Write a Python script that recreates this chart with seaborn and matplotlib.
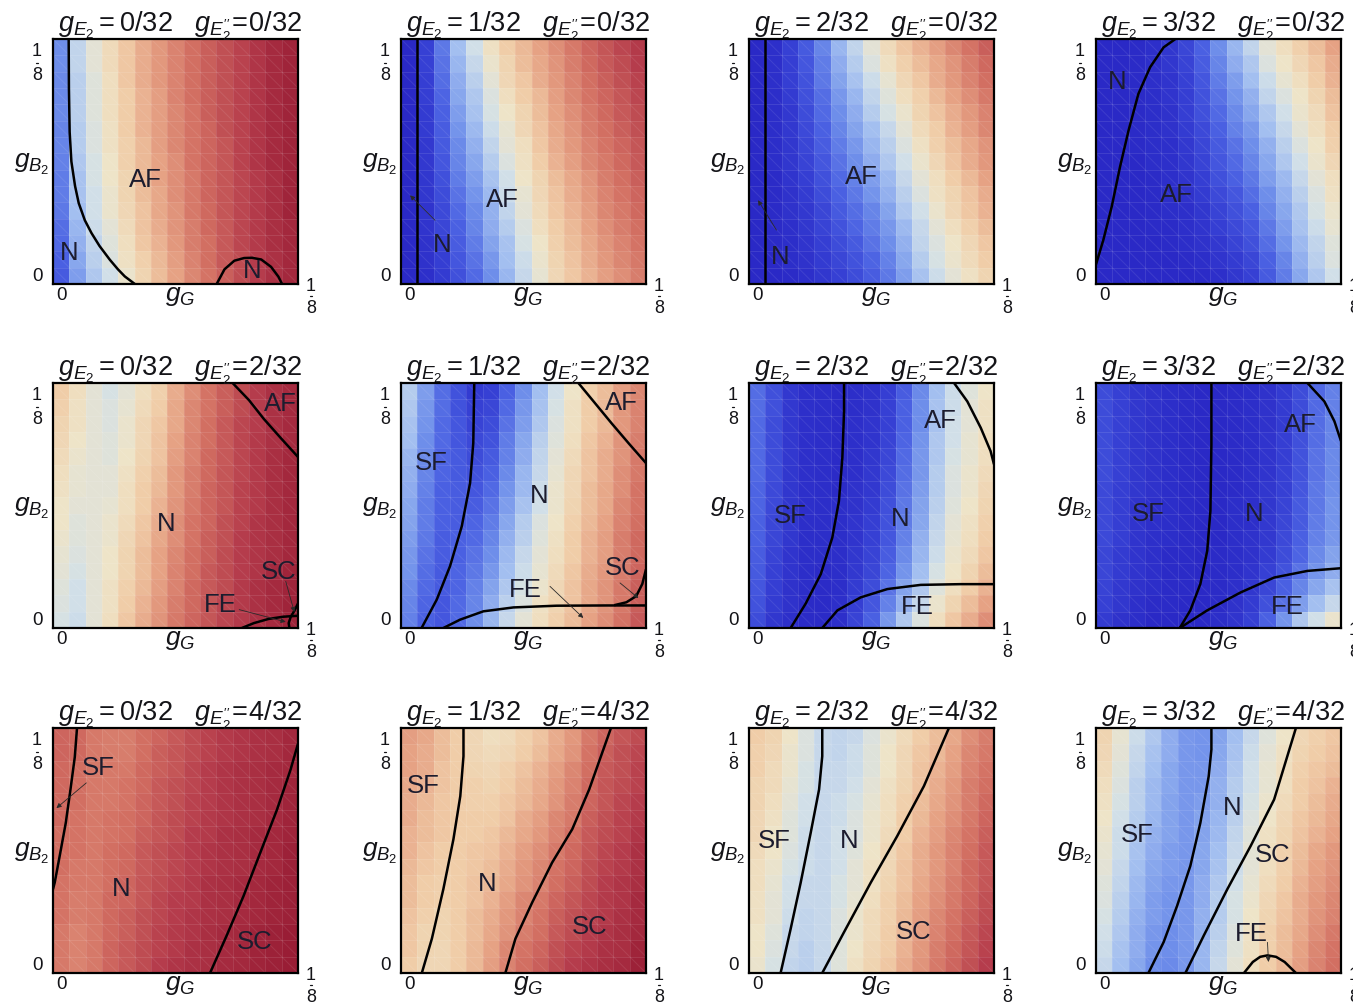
import numpy as np
import pandas as pd
import matplotlib
matplotlib.use("Agg")
import matplotlib.pyplot as plt
import seaborn as sns
from matplotlib.colors import LinearSegmentedColormap

sns.set_theme(style="white")
plt.rcParams["font.family"] = ["Liberation Sans", "DejaVu Sans"]
plt.rcParams["mathtext.fontset"] = "custom"
plt.rcParams["mathtext.rm"] = "Liberation Sans"
plt.rcParams["mathtext.it"] = "Liberation Sans:italic"
plt.rcParams["mathtext.bf"] = "Liberation Sans:bold"

# ---------------------------------------------------------------- data
G_MAX = 1 / 8                 # both axes run from 0 to 1/8
e_values = [0, 1, 2, 3]       # g_E2 numerators (over 32), one per column
s_values = [0, 2, 4]          # g_E2'' numerators (over 32), one per row

# free-energy colour level (0 = coldest, 100 = warmest), rows listed from top (g_B2 = 1/8) to bottom
grid_e0_s0 = [
    [30, 45, 52, 58, 63, 68, 72, 76, 80, 83, 86, 89, 92, 95, 97],
    [30, 45, 52, 58, 63, 68, 72, 76, 80, 83, 86, 89, 92, 95, 97],
    [29, 44, 51, 57, 63, 68, 72, 76, 80, 83, 86, 89, 92, 95, 97],
    [29, 44, 51, 57, 62, 67, 71, 76, 80, 83, 86, 89, 92, 95, 97],
    [29, 44, 51, 57, 62, 67, 71, 75, 79, 83, 86, 89, 92, 95, 97],
    [28, 43, 50, 56, 62, 67, 71, 75, 79, 82, 86, 89, 92, 95, 97],
    [28, 43, 50, 56, 61, 66, 71, 75, 79, 82, 85, 89, 92, 95, 97],
    [27, 42, 49, 55, 61, 66, 70, 74, 79, 82, 85, 89, 92, 95, 97],
    [26, 41, 49, 55, 60, 66, 70, 74, 78, 82, 85, 88, 91, 94, 97],
    [26, 41, 48, 54, 60, 65, 69, 74, 78, 82, 85, 88, 91, 94, 97],
    [25, 40, 48, 54, 59, 64, 69, 73, 78, 81, 85, 88, 91, 94, 97],
    [23, 38, 47, 52, 58, 64, 68, 73, 77, 81, 84, 88, 91, 94, 96],
    [22, 37, 45, 51, 57, 63, 67, 72, 77, 80, 84, 88, 91, 94, 96],
    [20, 35, 44, 50, 56, 61, 66, 71, 76, 80, 84, 87, 90, 93, 96],
    [18, 33, 42, 48, 54, 60, 65, 70, 75, 79, 83, 87, 90, 93, 96],
]
grid_e1_s0 = [
    [0, 10, 25, 40, 48, 56, 62, 66, 70, 74, 78, 82, 85, 88, 91],
    [0, 10, 24, 38, 46, 54, 60, 65, 69, 73, 77, 81, 84, 87, 90],
    [0, 9, 23, 36, 44, 52, 59, 63, 68, 72, 76, 80, 83, 86, 89],
    [0, 9, 21, 35, 42, 50, 57, 62, 66, 71, 75, 79, 82, 85, 88],
    [0, 8, 20, 33, 41, 49, 55, 60, 65, 70, 74, 78, 81, 84, 87],
    [0, 8, 19, 31, 39, 47, 53, 59, 64, 69, 73, 77, 80, 83, 86],
    [0, 7, 18, 29, 37, 45, 52, 57, 63, 68, 72, 76, 79, 82, 85],
    [0, 7, 17, 28, 35, 43, 50, 56, 62, 67, 71, 75, 78, 81, 84],
    [0, 6, 15, 26, 33, 41, 48, 55, 60, 65, 69, 73, 77, 80, 83],
    [0, 6, 14, 24, 31, 39, 47, 53, 59, 64, 68, 72, 76, 79, 82],
    [0, 5, 13, 22, 29, 37, 45, 52, 58, 63, 67, 71, 75, 78, 81],
    [0, 5, 12, 20, 28, 36, 43, 50, 57, 62, 66, 70, 74, 77, 80],
    [0, 4, 10, 19, 26, 34, 41, 49, 55, 61, 65, 69, 73, 76, 79],
    [0, 4, 9, 17, 24, 32, 40, 47, 54, 60, 64, 68, 72, 75, 78],
    [0, 3, 8, 15, 22, 30, 38, 46, 53, 59, 63, 67, 71, 74, 77],
]
grid_e2_s0 = [
    [0, 3, 10, 18, 28, 38, 45, 52, 58, 63, 67, 71, 75, 79, 83],
    [0, 3, 9, 17, 26, 36, 43, 50, 56, 61, 65, 69, 73, 77, 81],
    [0, 3, 9, 16, 25, 34, 41, 47, 53, 59, 63, 68, 72, 76, 80],
    [0, 2, 8, 15, 23, 32, 38, 45, 51, 57, 61, 66, 70, 74, 78],
    [0, 2, 7, 14, 22, 30, 36, 43, 49, 54, 60, 64, 68, 72, 76],
    [0, 2, 7, 13, 20, 28, 34, 40, 46, 52, 58, 62, 67, 71, 75],
    [0, 2, 6, 12, 19, 26, 32, 38, 44, 50, 56, 61, 65, 69, 73],
    [0, 2, 6, 11, 17, 24, 30, 36, 42, 48, 54, 59, 64, 68, 72],
    [0, 1, 5, 9, 15, 22, 27, 33, 39, 46, 52, 57, 62, 66, 70],
    [0, 1, 4, 8, 14, 20, 25, 31, 37, 44, 50, 56, 60, 64, 68],
    [0, 1, 4, 7, 12, 18, 23, 28, 34, 42, 48, 54, 59, 63, 67],
    [0, 1, 3, 6, 11, 16, 21, 26, 32, 39, 46, 52, 57, 61, 65],
    [0, 1, 2, 5, 9, 14, 18, 24, 30, 37, 45, 50, 55, 59, 63],
    [0, 0, 2, 4, 8, 12, 16, 21, 27, 35, 43, 49, 54, 58, 62],
    [0, 0, 1, 3, 6, 10, 14, 19, 25, 33, 41, 47, 52, 56, 60],
]
grid_e3_s0 = [
    [0, 0, 1, 3, 6, 12, 20, 30, 38, 45, 52, 57, 61, 65, 70],
    [0, 0, 1, 3, 6, 11, 19, 28, 36, 42, 50, 55, 59, 63, 68],
    [0, 0, 1, 3, 5, 10, 17, 26, 33, 40, 47, 53, 57, 62, 67],
    [0, 0, 1, 2, 5, 9, 16, 24, 31, 37, 45, 50, 55, 60, 65],
    [0, 0, 1, 2, 4, 9, 15, 22, 29, 35, 42, 48, 54, 58, 64],
    [0, 0, 1, 2, 4, 8, 13, 20, 27, 32, 40, 46, 52, 57, 62],
    [0, 0, 1, 2, 3, 7, 12, 18, 24, 30, 37, 44, 50, 55, 61],
    [0, 0, 0, 2, 3, 6, 11, 17, 22, 28, 35, 42, 48, 54, 59],
    [0, 0, 0, 1, 3, 5, 9, 15, 20, 25, 33, 39, 46, 52, 57],
    [0, 0, 0, 1, 2, 4, 8, 13, 17, 23, 30, 37, 44, 50, 56],
    [0, 0, 0, 1, 2, 3, 6, 11, 15, 20, 28, 35, 42, 49, 54],
    [0, 0, 0, 1, 1, 3, 5, 9, 13, 17, 25, 33, 41, 47, 53],
    [0, 0, 0, 0, 1, 2, 4, 7, 11, 15, 23, 31, 39, 45, 51],
    [0, 0, 0, 0, 0, 1, 2, 5, 8, 12, 20, 28, 37, 44, 50],
    [0, 0, 0, 0, 0, 0, 1, 3, 6, 10, 18, 26, 35, 42, 48],
]
grid_e0_s2 = [
    [62, 57, 52, 49, 52, 57, 61, 68, 74, 79, 83, 87, 90, 93, 95],
    [61, 56, 52, 50, 53, 58, 62, 69, 75, 79, 83, 87, 90, 93, 95],
    [60, 56, 52, 50, 54, 59, 63, 69, 75, 80, 84, 88, 90, 93, 95],
    [59, 55, 52, 51, 54, 59, 64, 70, 76, 80, 84, 88, 91, 93, 95],
    [58, 54, 52, 51, 55, 60, 64, 71, 76, 81, 84, 88, 91, 94, 96],
    [57, 53, 52, 52, 56, 61, 65, 72, 77, 81, 85, 88, 91, 94, 96],
    [56, 53, 52, 52, 57, 62, 66, 72, 77, 82, 85, 89, 91, 94, 96],
    [55, 52, 52, 53, 57, 62, 67, 73, 78, 82, 85, 89, 91, 94, 96],
    [55, 51, 52, 54, 58, 63, 68, 74, 79, 82, 86, 89, 92, 94, 96],
    [54, 51, 52, 54, 59, 64, 69, 74, 79, 83, 86, 90, 92, 94, 96],
    [53, 50, 52, 55, 60, 65, 70, 75, 80, 83, 87, 90, 92, 94, 96],
    [52, 49, 52, 55, 60, 65, 70, 76, 80, 84, 87, 90, 92, 95, 97],
    [51, 48, 52, 56, 61, 66, 71, 76, 81, 84, 87, 91, 93, 95, 97],
    [50, 48, 52, 56, 62, 67, 72, 77, 81, 85, 88, 91, 93, 95, 97],
    [49, 47, 52, 57, 63, 68, 73, 78, 82, 85, 88, 91, 93, 95, 97],
]
grid_e1_s2 = [
    [43, 33, 23, 16, 8, 10, 20, 30, 40, 48, 55, 61, 65, 71, 75],
    [42, 32, 23, 16, 10, 12, 22, 32, 41, 49, 56, 62, 66, 72, 76],
    [41, 31, 22, 17, 11, 14, 24, 33, 42, 50, 56, 62, 66, 72, 76],
    [40, 30, 22, 17, 13, 16, 26, 35, 44, 51, 57, 63, 67, 73, 77],
    [38, 29, 21, 18, 14, 18, 27, 36, 45, 52, 58, 64, 68, 73, 78],
    [37, 28, 21, 18, 16, 20, 29, 38, 46, 53, 59, 64, 68, 74, 78],
    [36, 27, 20, 19, 17, 22, 31, 39, 47, 54, 59, 65, 69, 74, 79],
    [35, 26, 20, 19, 19, 24, 33, 41, 48, 54, 60, 65, 69, 75, 79],
    [34, 26, 20, 19, 21, 26, 35, 43, 50, 55, 61, 66, 70, 76, 80],
    [33, 25, 19, 20, 22, 28, 37, 44, 51, 56, 62, 67, 71, 77, 81],
    [32, 24, 19, 20, 24, 30, 39, 46, 52, 57, 62, 67, 71, 77, 81],
    [31, 23, 18, 21, 25, 32, 40, 47, 53, 58, 63, 68, 72, 77, 82],
    [29, 22, 18, 21, 27, 34, 42, 49, 54, 59, 64, 69, 73, 78, 83],
    [28, 21, 17, 22, 28, 36, 44, 50, 56, 60, 64, 69, 73, 78, 83],
    [27, 20, 17, 22, 30, 38, 46, 52, 57, 61, 65, 70, 74, 79, 84],
]
grid_e2_s2 = [
    [23, 15, 7, 3, 2, 1, 2, 4, 9, 19, 29, 40, 47, 51, 55],
    [23, 15, 7, 3, 2, 1, 2, 4, 10, 20, 30, 41, 47, 52, 56],
    [22, 14, 7, 3, 2, 1, 3, 5, 10, 20, 30, 41, 48, 52, 56],
    [22, 14, 7, 3, 2, 1, 3, 5, 11, 21, 31, 42, 48, 53, 57],
    [22, 14, 7, 3, 2, 1, 3, 6, 12, 22, 32, 42, 49, 53, 57],
    [22, 14, 6, 3, 2, 1, 3, 7, 13, 23, 32, 43, 50, 54, 58],
    [21, 13, 6, 3, 2, 1, 4, 7, 14, 24, 33, 43, 50, 54, 59],
    [21, 13, 6, 3, 2, 2, 4, 8, 15, 25, 34, 44, 51, 55, 60],
    [20, 12, 6, 2, 2, 2, 5, 9, 16, 26, 35, 45, 52, 56, 61],
    [20, 12, 6, 2, 2, 2, 5, 10, 17, 27, 37, 46, 53, 57, 62],
    [19, 11, 5, 2, 2, 2, 6, 11, 19, 29, 38, 47, 54, 58, 63],
    [18, 10, 5, 2, 1, 2, 7, 12, 21, 31, 40, 49, 55, 60, 65],
    [17, 9, 4, 2, 1, 2, 8, 14, 24, 34, 42, 51, 57, 62, 67],
    [16, 8, 4, 1, 1, 3, 9, 17, 27, 37, 46, 54, 60, 65, 70],
    [14, 6, 3, 1, 1, 3, 11, 20, 32, 42, 50, 57, 63, 68, 74],
]
grid_e3_s2 = [
    [14, 10, 6, 4, 2, 1, 0, 0, 1, 2, 4, 8, 14, 22, 27],
    [14, 10, 6, 4, 2, 1, 0, 0, 1, 2, 4, 8, 14, 22, 27],
    [14, 10, 6, 4, 2, 1, 0, 0, 1, 2, 4, 8, 15, 23, 28],
    [14, 10, 6, 4, 2, 1, 0, 0, 1, 2, 5, 9, 15, 23, 28],
    [14, 10, 6, 4, 2, 1, 0, 0, 1, 2, 5, 9, 16, 24, 29],
    [14, 10, 6, 4, 2, 1, 0, 0, 1, 3, 5, 10, 16, 24, 29],
    [13, 9, 6, 4, 2, 1, 0, 0, 1, 3, 6, 10, 17, 25, 30],
    [13, 9, 5, 3, 2, 1, 0, 0, 2, 3, 6, 11, 18, 25, 31],
    [13, 9, 5, 3, 2, 1, 0, 0, 2, 3, 7, 12, 18, 26, 31],
    [13, 9, 5, 3, 2, 1, 0, 0, 2, 4, 7, 13, 20, 27, 32],
    [12, 8, 5, 3, 1, 1, 0, 1, 2, 4, 8, 14, 21, 29, 34],
    [12, 8, 5, 3, 1, 1, 0, 1, 2, 5, 10, 16, 24, 31, 36],
    [11, 7, 4, 2, 1, 1, 0, 1, 3, 6, 12, 20, 28, 35, 41],
    [10, 6, 3, 1, 1, 0, 0, 1, 4, 8, 15, 24, 33, 40, 46],
    [8, 4, 2, 0, 0, 0, 0, 2, 5, 10, 20, 31, 42, 48, 54],
]
grid_e0_s4 = [
    [82, 81, 78, 77, 77, 80, 82, 84, 87, 89, 91, 92, 93, 94, 96],
    [82, 81, 78, 77, 77, 80, 83, 85, 87, 89, 91, 92, 93, 94, 96],
    [81, 80, 78, 78, 78, 81, 83, 85, 88, 90, 92, 93, 94, 95, 96],
    [81, 80, 78, 78, 79, 81, 84, 86, 88, 90, 92, 93, 94, 95, 97],
    [81, 80, 78, 78, 79, 82, 84, 86, 89, 90, 92, 93, 94, 95, 97],
    [81, 79, 78, 79, 80, 82, 85, 87, 89, 91, 92, 93, 94, 95, 97],
    [80, 79, 78, 79, 80, 83, 85, 87, 90, 91, 93, 94, 95, 96, 97],
    [80, 79, 78, 80, 81, 84, 86, 88, 90, 92, 93, 94, 95, 96, 98],
    [80, 78, 78, 80, 81, 84, 86, 88, 90, 92, 93, 94, 95, 96, 98],
    [79, 78, 78, 80, 82, 85, 87, 89, 91, 93, 94, 95, 96, 97, 98],
    [79, 77, 78, 81, 82, 85, 88, 90, 91, 93, 94, 95, 96, 97, 98],
    [79, 77, 78, 81, 83, 86, 88, 90, 92, 93, 94, 95, 96, 97, 98],
    [78, 76, 78, 81, 83, 86, 89, 91, 92, 94, 95, 96, 97, 98, 99],
    [78, 76, 78, 82, 84, 87, 89, 91, 93, 94, 95, 96, 97, 98, 99],
    [78, 76, 78, 82, 84, 87, 90, 92, 93, 94, 95, 96, 97, 98, 99],
]
grid_e1_s4 = [
    [71, 69, 65, 62, 59, 57, 58, 61, 64, 68, 72, 78, 82, 85, 87],
    [70, 68, 65, 62, 59, 58, 59, 62, 65, 69, 73, 79, 83, 86, 88],
    [70, 68, 64, 62, 60, 59, 61, 64, 67, 71, 75, 80, 84, 86, 89],
    [69, 67, 64, 62, 61, 60, 62, 65, 68, 72, 76, 81, 85, 87, 89],
    [68, 66, 63, 62, 61, 61, 63, 66, 69, 73, 77, 82, 85, 88, 90],
    [68, 65, 63, 62, 62, 62, 64, 68, 71, 75, 78, 83, 86, 89, 91],
    [67, 65, 63, 62, 62, 63, 66, 69, 72, 76, 80, 84, 87, 89, 92],
    [67, 64, 62, 62, 63, 64, 67, 71, 74, 78, 81, 85, 88, 90, 93],
    [66, 63, 62, 62, 63, 65, 68, 72, 75, 79, 82, 86, 89, 91, 93],
    [65, 62, 61, 62, 64, 66, 69, 73, 76, 80, 83, 87, 90, 92, 94],
    [65, 62, 61, 62, 64, 67, 71, 75, 78, 82, 85, 88, 91, 92, 95],
    [64, 61, 60, 62, 65, 68, 72, 76, 79, 83, 86, 89, 91, 93, 95],
    [63, 60, 60, 62, 65, 69, 73, 77, 80, 84, 87, 90, 92, 94, 96],
    [63, 60, 59, 62, 66, 70, 75, 79, 82, 86, 89, 91, 93, 94, 97],
    [62, 59, 59, 62, 66, 71, 76, 80, 83, 87, 90, 92, 94, 95, 98],
]
grid_e2_s4 = [
    [62, 60, 55, 50, 46, 45, 46, 50, 54, 58, 62, 65, 69, 74, 77],
    [61, 59, 54, 50, 46, 45, 47, 51, 55, 59, 63, 66, 70, 75, 78],
    [61, 58, 54, 49, 46, 46, 47, 51, 55, 59, 64, 67, 71, 76, 79],
    [60, 58, 53, 49, 46, 46, 48, 52, 56, 60, 64, 68, 72, 77, 80],
    [60, 57, 52, 48, 46, 47, 49, 53, 57, 61, 65, 69, 73, 77, 81],
    [59, 56, 51, 48, 46, 47, 50, 54, 57, 62, 66, 70, 74, 78, 82],
    [59, 55, 51, 47, 46, 48, 50, 54, 58, 62, 67, 71, 75, 79, 83],
    [58, 55, 50, 47, 46, 48, 51, 55, 59, 63, 68, 72, 76, 80, 84],
    [57, 54, 49, 47, 46, 48, 52, 56, 59, 64, 68, 72, 76, 81, 84],
    [57, 53, 48, 46, 46, 49, 52, 56, 60, 64, 69, 73, 77, 81, 85],
    [56, 52, 48, 46, 46, 49, 53, 57, 61, 65, 70, 74, 78, 82, 86],
    [56, 52, 47, 45, 46, 50, 54, 58, 61, 66, 71, 75, 79, 83, 87],
    [55, 51, 46, 45, 46, 50, 54, 58, 62, 66, 71, 76, 80, 84, 88],
    [55, 50, 46, 44, 46, 51, 55, 59, 62, 67, 72, 77, 81, 85, 89],
    [54, 49, 45, 44, 46, 51, 56, 60, 63, 68, 73, 78, 82, 86, 90],
]
grid_e3_s4 = [
    [60, 53, 47, 42, 36, 32, 31, 34, 40, 46, 51, 55, 59, 61, 63],
    [59, 52, 46, 41, 36, 32, 31, 35, 41, 47, 52, 56, 60, 62, 64],
    [58, 51, 45, 40, 35, 32, 32, 36, 42, 48, 53, 57, 61, 63, 65],
    [57, 50, 44, 39, 35, 32, 32, 37, 43, 48, 53, 57, 62, 64, 67],
    [56, 49, 44, 39, 34, 32, 33, 37, 43, 49, 54, 58, 62, 65, 68],
    [55, 48, 43, 38, 34, 32, 34, 38, 44, 50, 55, 59, 63, 66, 69],
    [54, 47, 42, 37, 34, 32, 34, 39, 45, 51, 56, 60, 64, 67, 70],
    [53, 47, 41, 36, 33, 32, 35, 40, 46, 52, 57, 61, 65, 69, 72],
    [52, 46, 40, 35, 33, 32, 35, 41, 47, 52, 57, 61, 66, 70, 73],
    [51, 45, 39, 34, 32, 32, 36, 42, 48, 53, 58, 62, 67, 71, 74],
    [50, 44, 38, 33, 31, 32, 36, 43, 49, 54, 59, 63, 68, 72, 75],
    [49, 43, 37, 33, 31, 32, 37, 43, 49, 55, 60, 64, 68, 73, 76],
    [48, 42, 36, 32, 30, 32, 37, 44, 50, 56, 61, 65, 69, 74, 78],
    [47, 41, 36, 31, 30, 32, 38, 45, 51, 56, 61, 65, 70, 75, 79],
    [46, 40, 35, 30, 29, 32, 38, 46, 52, 57, 62, 66, 71, 76, 80],
]

# phase boundaries as (g_G, g_B2) pairs, in units of 1/8
bounds_e0_s0 = [
    [(0.064, 1.0), (0.065, 0.8), (0.068, 0.62), (0.075, 0.5), (0.09, 0.4), (0.105, 0.33),
     (0.13, 0.26), (0.157, 0.208), (0.19, 0.155), (0.232, 0.099), (0.265, 0.06),
     (0.293, 0.031), (0.334, 0.0)],
    [(0.668, 0.0), (0.70, 0.06), (0.74, 0.095), (0.78, 0.106), (0.812, 0.107),
     (0.85, 0.10), (0.89, 0.07), (0.92, 0.03), (0.935, 0.0)],
]
bounds_e1_s0 = [[(0.064, 0.0), (0.064, 1.0)]]
bounds_e2_s0 = [[(0.064, 0.0), (0.064, 1.0)]]
bounds_e3_s0 = [
    [(0.0, 0.08), (0.03, 0.18), (0.064, 0.315), (0.098, 0.478), (0.133, 0.627),
     (0.173, 0.776), (0.221, 0.885), (0.276, 0.966), (0.324, 1.0)],
]
bounds_e0_s2 = [
    [(0.733, 1.0), (0.80, 0.93), (0.86, 0.854), (0.93, 0.775), (1.0, 0.698)],
    [(0.771, 0.0), (0.82, 0.02), (0.88, 0.037), (0.94, 0.046), (1.0, 0.05)],
    [(1.0, 0.10), (0.985, 0.07), (0.97, 0.045), (0.962, 0.02), (0.965, 0.0)],
]
bounds_e1_s2 = [
    [(0.084, 0.0), (0.146, 0.116), (0.20, 0.252), (0.248, 0.415), (0.282, 0.592),
     (0.295, 0.755), (0.299, 1.0)],
    [(0.724, 1.0), (0.79, 0.92), (0.86, 0.835), (0.93, 0.753), (1.0, 0.673)],
    [(0.173, 0.0), (0.241, 0.034), (0.336, 0.068), (0.459, 0.084), (0.635, 0.091),
     (0.84, 0.092), (1.0, 0.092)],
    [(1.0, 0.24), (0.985, 0.18), (0.96, 0.13), (0.92, 0.105), (0.87, 0.093)],
]
bounds_e2_s2 = [
    [(0.17, 0.0), (0.231, 0.099), (0.293, 0.22), (0.34, 0.369), (0.367, 0.518),
     (0.381, 0.695), (0.388, 0.885), (0.388, 1.0)],
    [(0.837, 1.0), (0.891, 0.925), (0.946, 0.817), (0.986, 0.722), (1.0, 0.668)],
    [(0.299, 0.0), (0.361, 0.072), (0.456, 0.125), (0.565, 0.159), (0.701, 0.176),
     (0.864, 0.179), (1.0, 0.179)],
]
bounds_e3_s2 = [
    [(0.342, 0.0), (0.385, 0.072), (0.426, 0.18), (0.454, 0.315), (0.467, 0.478),
     (0.471, 0.749), (0.471, 1.0)],
    [(0.863, 1.0), (0.932, 0.925), (0.973, 0.844), (1.0, 0.763)],
    [(0.342, 0.0), (0.454, 0.072), (0.59, 0.145), (0.727, 0.206), (0.863, 0.233),
     (1.0, 0.244)],
]
bounds_e0_s4 = [
    [(0.098, 1.0), (0.089, 0.882), (0.071, 0.747), (0.052, 0.612), (0.027, 0.476),
     (0.007, 0.369), (0.0, 0.342)],
    [(0.641, 0.0), (0.709, 0.153), (0.778, 0.315), (0.846, 0.491), (0.914, 0.666),
     (0.969, 0.828), (1.0, 0.936)],
]
bounds_e1_s4 = [
    [(0.085, 0.0), (0.126, 0.14), (0.173, 0.343), (0.214, 0.546), (0.242, 0.722),
     (0.255, 0.885), (0.255, 1.0)],
    [(0.426, 0.0), (0.467, 0.14), (0.536, 0.289), (0.617, 0.451), (0.699, 0.587),
     (0.768, 0.749), (0.857, 1.0)],
]
bounds_e2_s4 = [
    [(0.129, 0.0), (0.17, 0.18), (0.211, 0.369), (0.252, 0.573), (0.286, 0.749),
     (0.299, 0.885), (0.299, 1.0)],
    [(0.299, 0.0), (0.388, 0.167), (0.497, 0.369), (0.605, 0.559), (0.714, 0.763),
     (0.816, 1.0)],
]
bounds_e3_s4 = [
    [(0.214, 0.0), (0.276, 0.126), (0.331, 0.274), (0.385, 0.437), (0.426, 0.613),
     (0.46, 0.803), (0.471, 0.912), (0.471, 1.0)],
    [(0.365, 0.0), (0.44, 0.153), (0.536, 0.342), (0.631, 0.518), (0.727, 0.708),
     (0.816, 1.0)],
    [(0.604, 0.0), (0.64, 0.045), (0.67, 0.066), (0.70, 0.072), (0.735, 0.066),
     (0.77, 0.045), (0.816, 0.0)],
]

# phase names and where they sit (g_G, g_B2 in units of 1/8)
phases_e0_s0 = [("AF", 0.379, 0.426), ("N", 0.068, 0.127), ("N", 0.812, 0.052)]
phases_e1_s0 = [("AF", 0.413, 0.342), ("N", 0.167, 0.159)]
phases_e2_s0 = [("AF", 0.46, 0.437), ("N", 0.128, 0.111)]
phases_e3_s0 = [("N", 0.087, 0.824), ("AF", 0.33, 0.362)]
phases_e0_s2 = [("AF", 0.928, 0.916), ("N", 0.46, 0.426), ("SC", 0.921, 0.229), ("FE", 0.682, 0.093)]
phases_e1_s2 = [("SF", 0.125, 0.673), ("N", 0.565, 0.537), ("AF", 0.90, 0.918),
                ("SC", 0.905, 0.245), ("FE", 0.506, 0.156)]
phases_e2_s2 = [("SF", 0.17, 0.457), ("N", 0.619, 0.444), ("AF", 0.782, 0.844), ("FE", 0.687, 0.084)]
phases_e3_s2 = [("SF", 0.214, 0.464), ("N", 0.645, 0.464), ("AF", 0.836, 0.83), ("FE", 0.781, 0.084)]
phases_e0_s4 = [("SF", 0.184, 0.835), ("N", 0.28, 0.342), ("SC", 0.825, 0.126)]
phases_e1_s4 = [("SF", 0.092, 0.763), ("N", 0.351, 0.363), ("SC", 0.768, 0.187)]
phases_e2_s4 = [("SF", 0.102, 0.539), ("N", 0.408, 0.539), ("SC", 0.673, 0.166)]
phases_e3_s4 = [("SF", 0.167, 0.563), ("N", 0.556, 0.672), ("SC", 0.72, 0.482), ("FE", 0.635, 0.159)]

# pointers from a phase name to a sliver too thin to hold it: (tail, head)
pointers_e1_s0 = [((0.139, 0.26), (0.037, 0.362))]
pointers_e2_s0 = [((0.112, 0.22), (0.037, 0.342))]
pointers_e0_s2 = [((0.76, 0.075), (0.95, 0.025)), ((0.95, 0.19), (0.985, 0.065))]
pointers_e1_s2 = [((0.608, 0.17), (0.744, 0.041)), ((0.894, 0.184), (0.969, 0.122))]
pointers_e0_s4 = [((0.136, 0.776), (0.014, 0.673))]
pointers_e3_s4 = [((0.70, 0.125), (0.704, 0.045))]

grids = {
    (0, 0): grid_e0_s0, (1, 0): grid_e1_s0, (2, 0): grid_e2_s0, (3, 0): grid_e3_s0,
    (0, 2): grid_e0_s2, (1, 2): grid_e1_s2, (2, 2): grid_e2_s2, (3, 2): grid_e3_s2,
    (0, 4): grid_e0_s4, (1, 4): grid_e1_s4, (2, 4): grid_e2_s4, (3, 4): grid_e3_s4,
}
bounds = {
    (0, 0): bounds_e0_s0, (1, 0): bounds_e1_s0, (2, 0): bounds_e2_s0, (3, 0): bounds_e3_s0,
    (0, 2): bounds_e0_s2, (1, 2): bounds_e1_s2, (2, 2): bounds_e2_s2, (3, 2): bounds_e3_s2,
    (0, 4): bounds_e0_s4, (1, 4): bounds_e1_s4, (2, 4): bounds_e2_s4, (3, 4): bounds_e3_s4,
}
phases = {
    (0, 0): phases_e0_s0, (1, 0): phases_e1_s0, (2, 0): phases_e2_s0, (3, 0): phases_e3_s0,
    (0, 2): phases_e0_s2, (1, 2): phases_e1_s2, (2, 2): phases_e2_s2, (3, 2): phases_e3_s2,
    (0, 4): phases_e0_s4, (1, 4): phases_e1_s4, (2, 4): phases_e2_s4, (3, 4): phases_e3_s4,
}
pointers = {
    (1, 0): pointers_e1_s0, (2, 0): pointers_e2_s0, (0, 2): pointers_e0_s2,
    (1, 2): pointers_e1_s2, (0, 4): pointers_e0_s4, (3, 4): pointers_e3_s4,
}

# ---------------------------------------------------------------- style
thermo = LinearSegmentedColormap.from_list("thermometer", [
    (0.00, "#2a29c6"), (0.10, "#3640d4"), (0.20, "#4a60e2"), (0.30, "#6f8fea"),
    (0.40, "#a3bff0"), (0.48, "#d2e0e8"), (0.55, "#eee4c8"), (0.62, "#f0cda8"),
    (0.70, "#e6a385"), (0.80, "#d26f62"), (0.90, "#b63d4c"), (1.00, "#961a33"),
])
INK = "#141418"
LABEL_INK = "#1c1c2e"

W, H = 1353, 1005
col_left = [53, 401, 749, 1096]
row_top = [39, 383, 728]
side = 245

fig = plt.figure(figsize=(W / 100, H / 100), dpi=100)
fig.patch.set_facecolor("white")


def frac_label(ax, x, y_top, y_bot):
    """Stacked 1 over 8 with a short bar, as used for the 1/8 axis ends."""
    ax.text(x, y_top, "1", transform=ax.transAxes, ha="center", va="center",
            fontsize=13, color=INK)
    ymid = (y_top + y_bot) / 2 + 0.004
    ax.plot([x - 0.005, x + 0.005], [ymid, ymid], transform=ax.transAxes,
            color=INK, lw=0.9, clip_on=False)
    ax.text(x, y_bot, "8", transform=ax.transAxes, ha="center", va="center",
            fontsize=13, color=INK)


for i, s in enumerate(s_values):
    for j, e in enumerate(e_values):
        ax = fig.add_axes([col_left[j] / W, 1 - (row_top[i] + side) / H, side / W, side / H])
        field = pd.DataFrame(grids[(e, s)])
        n = field.shape[0]
        sns.heatmap(field, ax=ax, cmap=thermo, vmin=0, vmax=100, cbar=False,
                    xticklabels=False, yticklabels=False, linewidths=0)

        def to_xy(u, v):
            # heatmap cell coordinates: columns left->right, rows top->bottom
            return (u * G_MAX) / G_MAX * n, n - (v * G_MAX) / G_MAX * n

        # faint polygon seams of the rendered mesh
        for k in range(1, n):
            ax.axvline(k, color="white", alpha=0.10, lw=0.8, zorder=2)
            ax.axhline(k, color="white", alpha=0.10, lw=0.8, zorder=2)
        for k in range(-n, n):
            ax.plot([k, k + n], [0, n], color="white", alpha=0.09, lw=0.7, zorder=2)

        for curve in bounds[(e, s)]:
            pts = np.array([to_xy(u, v) for u, v in curve])
            ax.plot(pts[:, 0], pts[:, 1], color="black", lw=1.8, zorder=4,
                    solid_capstyle="butt", clip_on=True)

        for (tu, tv), (hu, hv) in pointers.get((e, s), []):
            ax.annotate("", xy=to_xy(hu, hv), xytext=to_xy(tu, tv),
                        arrowprops=dict(arrowstyle="-|>", color="#2a2a2a", lw=0.6,
                                        mutation_scale=7, shrinkA=0, shrinkB=0),
                        zorder=5)

        for name, u, v in phases[(e, s)]:
            x, y = to_xy(u, v)
            ax.text(x, y, name, ha="center", va="center", fontsize=18.5, color=LABEL_INK,
                    zorder=6)

        ax.set_xlim(0, n)
        ax.set_ylim(n, 0)
        for sp in ax.spines.values():
            sp.set_visible(True)
            sp.set_color("black")
            sp.set_linewidth(1.6)
        ax.set_xlabel("")
        ax.set_ylabel("")

        title = rf"$g_{{E_2}} = {e}/32$   $g_{{E_2^{{\prime\prime}}}}\!=\!{s}/32$"
        ax.text(0.52, 1.033, title, transform=ax.transAxes, ha="center", va="baseline",
                fontsize=19.5, color=INK)
        ax.text(0.52, -0.068, r"$g_G$", transform=ax.transAxes, ha="center",
                va="baseline", fontsize=19, color=INK)
        ax.text(-0.086, 0.473, r"$g_{B_2}$", transform=ax.transAxes, ha="center",
                va="baseline", fontsize=19, color=INK)
        ax.text(0.035, -0.045, "0", transform=ax.transAxes, ha="center", va="center",
                fontsize=13.5, color=INK)
        ax.text(-0.065, 0.029, "0", transform=ax.transAxes, ha="center", va="center",
                fontsize=13.5, color=INK)
        frac_label(ax, 1.053, -0.012, -0.098)
        frac_label(ax, -0.065, 0.947, 0.849)

fig.savefig("out.png", dpi=100, facecolor="white")
